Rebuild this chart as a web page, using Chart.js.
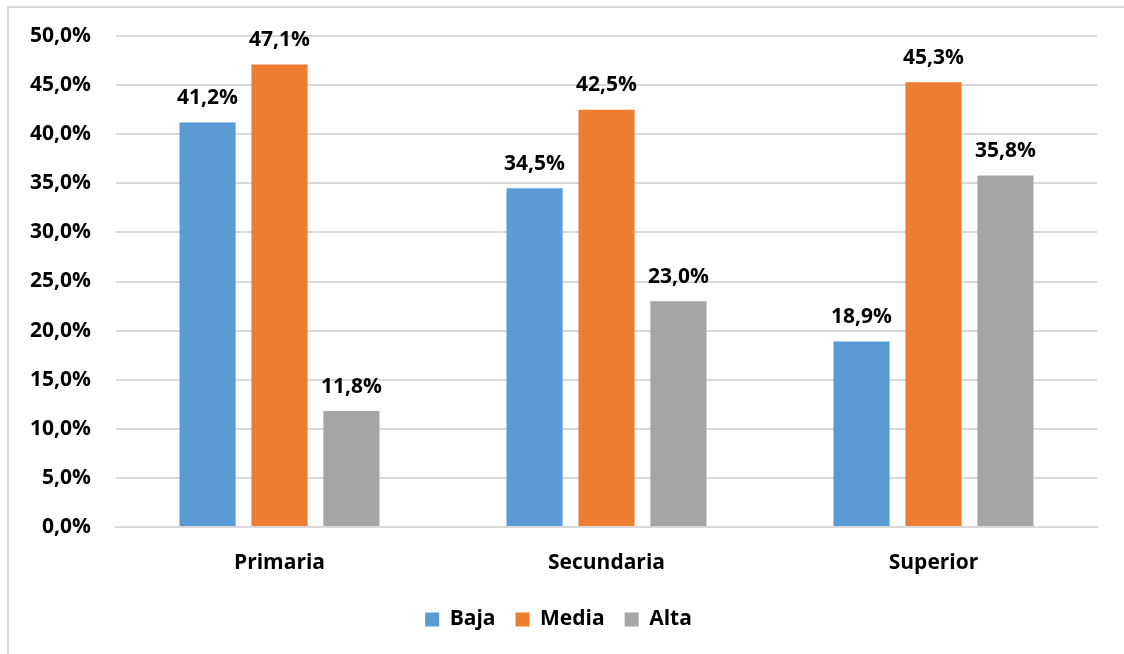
<!DOCTYPE html>
<html>
<head>
<meta charset="utf-8">
<script src="https://cdn.jsdelivr.net/npm/chart.js@4/dist/chart.umd.min.js"></script>
<style>
  html, body { margin: 0; padding: 0; background: #fff; }
  #wrap { position: relative; width: 1124px; height: 654px; overflow: hidden; }
  #frame { position: absolute; left: 7px; top: 6px; width: 1200px; height: 700px;
           border-left: 2px solid #d9d9d9; border-top: 2px solid #d9d9d9; }
  canvas { position: absolute; left: 0; top: 0; }
</style>
</head>
<body>
<div id="wrap">
  <div id="frame"></div>
  <canvas id="g_barra" width="1124" height="654"></canvas>
</div>
<script>
// datos
const niveles = ['Primaria', 'Secundaria', 'Superior'];
const baja = [41.2, 34.5, 18.9];
const media = [47.1, 42.5, 45.3];
const alta = [11.8, 23.0, 35.8];

const fmt = v => v.toFixed(1).replace('.', ',') + '%';
const fuente = '"Open Sans", "DejaVu Sans", sans-serif';

// etiquetas sobre las barras
const etiquetas = {
    id: 'etiquetas',
    afterDatasetsDraw(chart) {
        const c = chart.ctx;
        c.save();
        c.font = 'bold 21px ' + fuente;
        c.fillStyle = '#000';
        c.textAlign = 'center';
        c.textBaseline = 'bottom';
        chart.data.datasets.forEach((ds, i) => {
            chart.getDatasetMeta(i).data.forEach((bar, j) => {
                c.fillText(fmt(ds.data[j]), bar.x, bar.y - 14);
            });
        });
        c.restore();
    }
};

const ctx = document.getElementById('g_barra').getContext('2d');
const g_barra = new Chart(ctx, {
    type: 'bar',
    data: {
        labels: niveles,
        datasets: [
            { label: 'Baja', data: baja, backgroundColor: '#5b9bd5' },
            { label: 'Media', data: media, backgroundColor: '#ed7d31' },
            { label: 'Alta', data: alta, backgroundColor: '#a5a5a5' }
        ]
    },
    options: {
        responsive: false,
        animation: false,
        categoryPercentage: 0.66,
        barPercentage: 0.78,
        layout: { padding: { left: 20, right: 27, top: 36, bottom: 14 } },
        plugins: {
            tooltip: { enabled: false },
            legend: {
                position: 'bottom',
                labels: {
                    boxWidth: 14, boxHeight: 14, padding: 20,
                    color: '#000',
                    font: { family: fuente, size: 21, weight: 'bold' }
                }
            }
        },
        scales: {
            x: {
                afterFit(axis) { axis.height = 62; axis.paddingLeft = 0; axis.paddingRight = 0; },
                grid: { display: false, drawTicks: false },
                border: { color: '#d9d9d9', width: 2 },
                ticks: { color: '#000', padding: 23, font: { family: fuente, size: 21, weight: 'bold' } }
            },
            y: {
                min: 0, max: 50,
                afterFit(axis) { axis.width = 96; axis.paddingTop = 0; axis.paddingBottom = 0; },
                grid: { color: '#d9d9d9', lineWidth: 2, drawTicks: false },
                border: { display: false },
                ticks: {
                    stepSize: 5, padding: 25, color: '#000',
                    font: { family: fuente, size: 21, weight: 'bold' },
                    callback: v => fmt(v)
                }
            }
        }
    },
    plugins: [etiquetas]
});
</script>
</body>
</html>
